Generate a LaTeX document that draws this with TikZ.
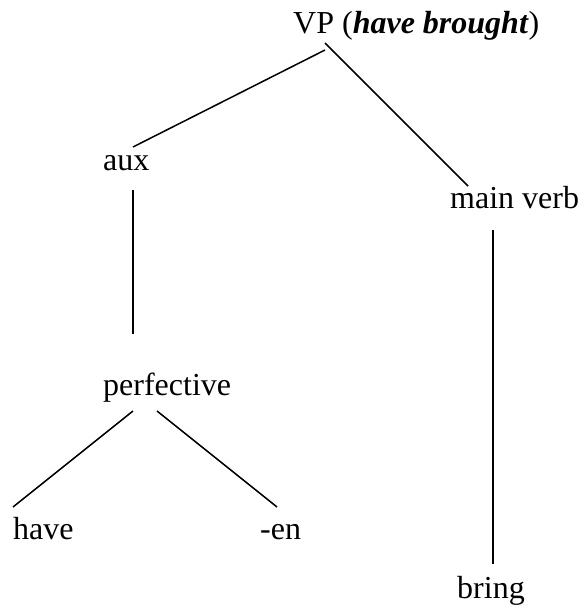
\documentclass[tikz,border=0pt]{standalone}
\usepackage{fontspec}
\setmainfont{Liberation Serif}
\usepackage{tikz}
\tikzset{%
  % Specifications for style of nodes and branches:
    word/.style = {inner sep=0pt, anchor=base west,
                   font=\fontsize{32bp}{37bp}\selectfont},
  branch/.style = {line width=1.5bp, black},
}

\begin{document}
\begin{tikzpicture}[x=1bp, y=-1bp]
  \useasboundingbox (0,0) rectangle (584,610);
  % Specification of nodes (position, etc.)
  \node (vp)         [word] at (293,34)  {VP (\textbf{\textit{have brought}})};
  \node (aux)        [word] at (103,171) {aux};
  \node (mainverb)   [word] at (450,208) {main verb};
  \node (perfective) [word] at (103,395) {perfective};
  \node (have)       [word] at (13,539)  {have};
  \node (en)         [word] at (260,539) {-en};
  \node (bring)      [word] at (457,598) {bring};
  % Specification of branches between nodes specified above
  \draw[branch] ([shift={(32,16)}]vp.base west) -- ([shift={(30,-24)}]aux.base west);
  \draw[branch] ([shift={(32,9)}]vp.base west) -- ([shift={(18,-22)}]mainverb.base west);
  \draw[branch] ([shift={(30,19)}]aux.base west) -- ([shift={(30,-61)}]perfective.base west);
  \draw[branch] ([shift={(43,22)}]mainverb.base west) -- ([shift={(36,-34)}]bring.base west);
  \draw[branch] ([shift={(30,16)}]perfective.base west) -- ([shift={(0,-32)}]have.base west);
  \draw[branch] ([shift={(54,16)}]perfective.base west) -- ([shift={(17,-32)}]en.base west);
\end{tikzpicture}
\end{document}
